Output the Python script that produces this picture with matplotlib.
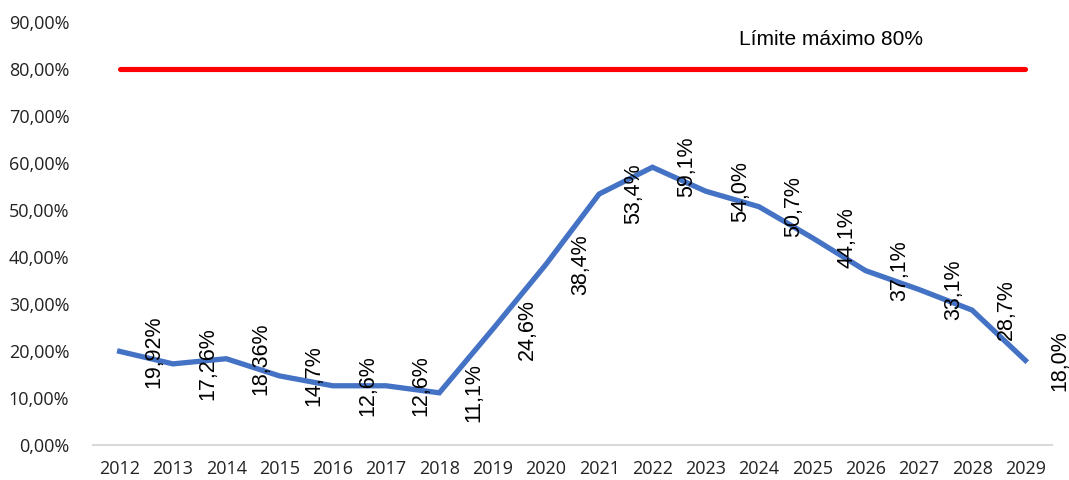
import matplotlib.pyplot as plt

# Deuda / límite por año
years = [str(y) for y in range(2012, 2030)]
ratio = [19.92, 17.26, 18.36, 14.7, 12.6, 12.6, 11.1, 24.6, 38.4, 53.4,
         59.1, 54.0, 50.7, 44.1, 37.1, 33.1, 28.7, 18.0]
point_labels = ["19,92%", "17,26%", "18,36%", "14,7%", "12,6%", "12,6%", "11,1%",
                "24,6%", "38,4%", "53,4%", "59,1%", "54,0%", "50,7%", "44,1%",
                "37,1%", "33,1%", "28,7%", "18,0%"]
limit = [80.0] * len(years)
limit_text = "Límite máximo 80%"
yticks = [0, 10, 20, 30, 40, 50, 60, 70, 80, 90]
ytick_labels = [f"{t},00%" for t in yticks]

fig = plt.figure(figsize=(10.69, 4.8), dpi=100)
ax = fig.add_axes([93 / 1069, 1 - 445 / 480, (1052 - 93) / 1069, (445 - 22) / 480])

x = list(range(len(years)))
ax.plot(x, limit, color="#ff0000", lw=3.7, solid_capstyle="round")
ax.plot(x, ratio, color="#4472c4", lw=3.8, solid_joinstyle="miter")

# etiquetas de valor giradas, desplazadas a la derecha de cada punto
for i, (v, lab) in enumerate(zip(ratio, point_labels)):
    ax.text(i + 0.65, v, lab, rotation=90, ha="center", va="center",
            fontsize=15.5, family="Liberation Sans", color="black")

ax.text(13.35, 86.2, limit_text, ha="center", va="center",
        fontsize=15, family="Liberation Sans", color="black")

ax.set_xlim(-0.5, len(years) - 0.5)
ax.set_ylim(0, 90)
ax.set_xticks(x)
ax.set_xticklabels(years, family="Open Sans", fontsize=13)
ax.set_yticks(yticks)
ax.set_yticklabels(ytick_labels, family="Open Sans", fontsize=13)
ax.tick_params(axis="both", length=0, colors="#222222")
ax.tick_params(axis="y", pad=17)
ax.tick_params(axis="x", pad=11)

for side in ["top", "right", "left"]:
    ax.spines[side].set_visible(False)
ax.spines["bottom"].set_color("#d9d9d9")
ax.spines["bottom"].set_linewidth(1.5)

fig.savefig("out.png", dpi=100)
